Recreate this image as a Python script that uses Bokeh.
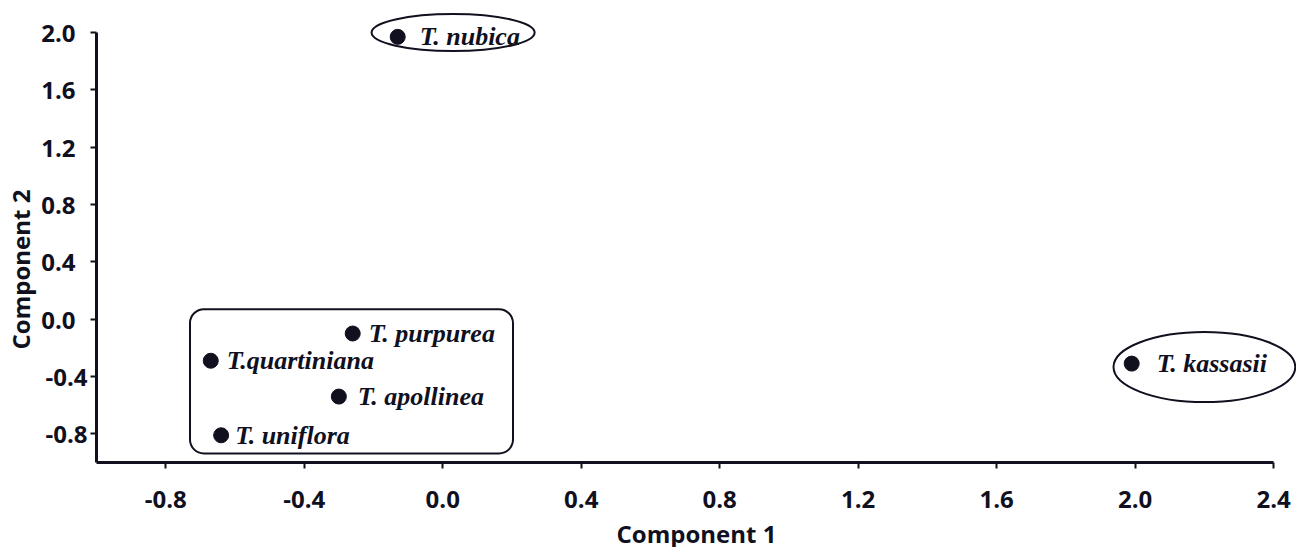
from bokeh.plotting import figure
from bokeh.models import Range1d, FixedTicker, PrintfTickFormatter, BoxAnnotation, ColumnDataSource, Title
from bokeh.core.properties import value
from bokeh.embed import file_html
from bokeh.resources import INLINE

# ---- data ----
species = ["T. nubica", "T. purpurea", "T.quartiniana", "T. apollinea", "T. uniflora", "T. kassasii"]
comp1 = [-0.13, -0.26, -0.67, -0.30, -0.64, 1.99]
comp2 = [1.97, -0.10, -0.29, -0.54, -0.81, -0.31]

x_ticks = [-0.8, -0.4, 0.0, 0.4, 0.8, 1.2, 1.6, 2.0, 2.4]
y_ticks = [-0.8, -0.4, 0.0, 0.4, 0.8, 1.2, 1.6, 2.0]

# cluster outlines (ellipses around single species, rounded box around the group)
ellipse_x = [0.03, 2.20]
ellipse_y = [2.0, -0.334]
ellipse_w = [0.471, 0.525]
ellipse_h = [0.259, 0.49]
group_box = dict(left=-0.73, right=0.203, top=0.07, bottom=-0.937)

# label offsets in screen pixels (style)
label_dx = [22, 16, 16, 19, 14, 25]

INK = "#10101e"
SANS = "Open Sans"

p = figure(width=1296, height=552,
           x_range=Range1d(-1.0, 2.466), y_range=Range1d(-1.0, 2.147),
           output_backend="svg", toolbar_location=None,
           min_border_left=96, min_border_right=0, min_border_top=11, min_border_bottom=85)
p.outline_line_color = None
p.grid.visible = False
p.background_fill_color = "white"
p.border_fill_color = "white"

for ax, ticks, bounds in ((p.xaxis[0], x_ticks, (-1.0, 2.4)), (p.yaxis[0], y_ticks, (-1.0, 2.0))):
    ax.ticker = FixedTicker(ticks=ticks)
    ax.formatter = PrintfTickFormatter(format="%.1f")
    ax.bounds = bounds
    ax.axis_line_width = 3
    ax.axis_line_color = INK
    ax.major_tick_line_width = 2
    ax.major_tick_line_color = INK
    ax.major_tick_out = 6
    ax.major_tick_in = 0
    ax.minor_tick_line_color = None
    ax.major_label_text_font = SANS
    ax.major_label_text_font_style = "bold"
    ax.major_label_text_font_size = "24px"
    ax.major_label_text_color = INK
    ax.axis_label_text_font = SANS
    ax.axis_label_text_font_style = "bold"
    ax.axis_label_text_font_size = "24px"
    ax.axis_label_text_color = INK

# the reference's y labels are left-aligned: pad non-negative ones on the right
p.yaxis.major_label_overrides = {v: "%.1f\u2002" % v for v in y_ticks if v >= 0}

p.xaxis.axis_label = "Component 1"
p.xaxis.major_label_standoff = 22
p.xaxis.axis_label_standoff = 6
p.yaxis.major_label_standoff = 3

# y-axis title, placed lower than the frame centre as in the reference
p.add_layout(Title(text="Component 2", align="left", offset=113, standoff=3,
                   text_font=SANS, text_font_style="bold", text_font_size="24px",
                   text_color=INK), "left")

src = ColumnDataSource(dict(x=comp1, y=comp2, name=species, dx=label_dx))

p.ellipse(x=ellipse_x, y=ellipse_y, width=ellipse_w, height=ellipse_h,
          fill_color=None, line_color=INK, line_width=2)

p.add_layout(BoxAnnotation(left=group_box["left"], right=group_box["right"],
                           top=group_box["top"], bottom=group_box["bottom"],
                           border_radius=14, fill_alpha=0, fill_color=None,
                           line_color=INK, line_alpha=1.0, line_width=2))

p.scatter(x="x", y="y", source=src, size=15, fill_color=INK, line_color=INK)
p.text(x="x", y="y", text="name", source=src, x_offset="dx",
       text_baseline="middle", text_align="left",
       text_font=value("Liberation Serif"), text_font_style="bold italic",
       text_font_size="26px", text_color=INK)

open("out.html", "w").write(file_html(p, INLINE))
